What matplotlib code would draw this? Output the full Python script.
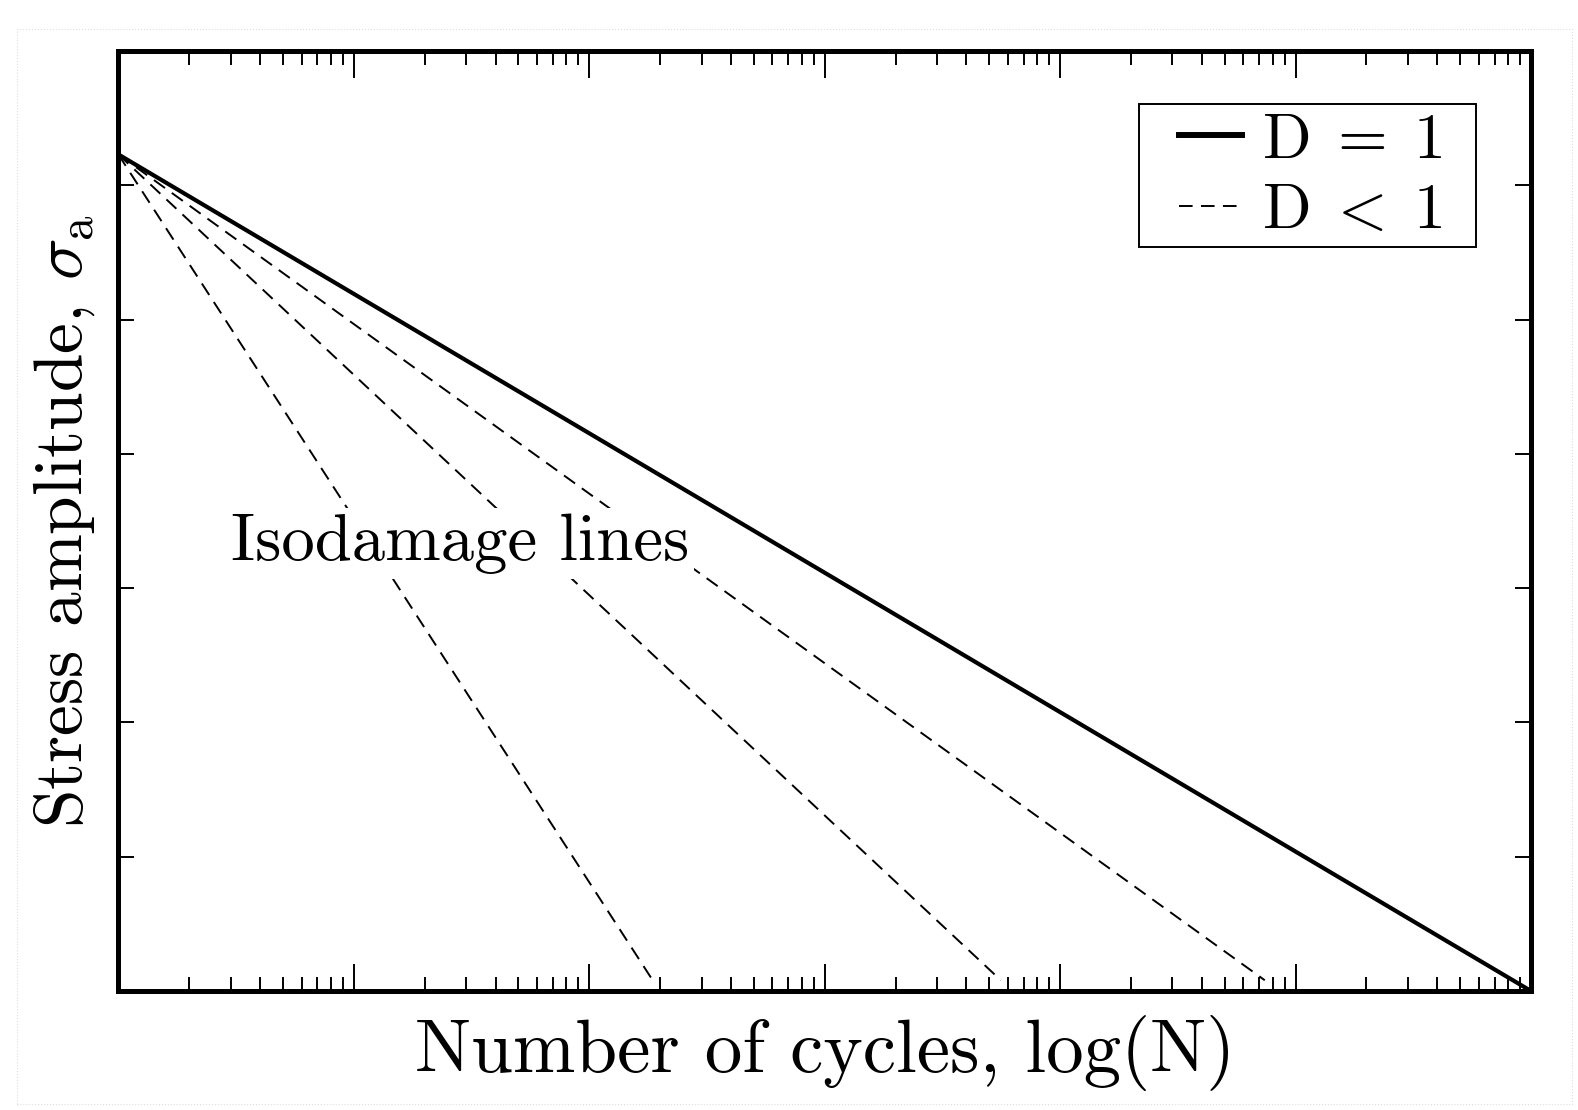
import numpy as np
import matplotlib
matplotlib.use("Agg")
import matplotlib.pyplot as plt
from matplotlib.patches import Rectangle
from matplotlib.ticker import LogLocator, NullFormatter, MultipleLocator

plt.rcParams['font.family'] = 'serif'
plt.rcParams['font.serif'] = ['cmr10']
plt.rcParams['mathtext.fontset'] = 'cm'
plt.rcParams['axes.formatter.use_mathtext'] = True

# data (arbitrary units, log-N over six decades)
n_start = 1.0
s_start = 6.23
n_fail = 1e6                 # D = 1 line ends here
s_fail = 0.0
n_iso = [186, 5600, 74000]   # isodamage (D < 1) end points
s_iso = 0.08

W, H = 1578, 1110
L, R, T, B = 118.3, 1531, 51, 991

fig = plt.figure(figsize=(W/100, H/100), dpi=100)
ax = fig.add_axes([L/W, 1 - B/H, (R-L)/W, (B-T)/H])

ax.plot([n_start, n_fail], [s_start, s_fail], color='black', lw=3.0, label=r'$\mathrm{D}\;=\;1$')
for i, n in enumerate(n_iso):
    ax.plot([n_start, n], [s_start, s_iso], color='black', lw=1.4, ls=(0, (7, 4.3)),
            label=r'$\mathrm{D}\;<\;1$' if i == 0 else None)

ax.set_xscale('log')
ax.set_xlim(1, 1e6)
ax.set_ylim(0, 7)
ax.yaxis.set_major_locator(MultipleLocator(1))
ax.xaxis.set_major_locator(LogLocator(base=10, numticks=10))
ax.xaxis.set_minor_locator(LogLocator(base=10, subs=np.arange(2, 10), numticks=20))
ax.xaxis.set_major_formatter(NullFormatter())
ax.xaxis.set_minor_formatter(NullFormatter())
ax.yaxis.set_major_formatter(NullFormatter())

ax.tick_params(which='both', direction='in', top=True, right=True, width=1.4)
ax.tick_params(axis='x', which='major', length=19.5)
ax.tick_params(axis='x', which='minor', length=10)
ax.tick_params(axis='y', which='major', length=11.5)
for sp in ax.spines.values():
    sp.set_linewidth(3.6)

ax.set_xlabel('Number of cycles, log(N)', fontsize=54, labelpad=14)
ax.set_ylabel(r'Stress amplitude, $\sigma_\mathrm{a}$', fontsize=50, labelpad=12)

ax.text(3.0, 3.33, 'Isodamage lines', fontsize=48, va='center', ha='left',
        bbox=dict(facecolor='white', edgecolor='none', pad=4))

# legend entries without frame, box drawn separately (wider side padding)
leg = ax.legend(loc='center left', fontsize=46, handlelength=1.0, handletextpad=0.3,
                frameon=False, borderpad=0, labelspacing=0.2, borderaxespad=0,
                bbox_to_anchor=(0.7505, 0.866))
leg.legend_handles[0].set_linewidth(4.3)
ax.add_patch(Rectangle((0.7225, 0.7915), 0.9611 - 0.7225, 0.9436 - 0.7915,
                       transform=ax.transAxes, fill=False, edgecolor='black',
                       lw=1.4, zorder=6))

fig.patches.append(Rectangle((17/W, 1 - 1104/H), (1572-17)/W, (1104-29)/H,
                             transform=fig.transFigure, fill=False, edgecolor='#dddddd',
                             lw=0.8, ls=':'))

fig.savefig('out.png', dpi=100)
